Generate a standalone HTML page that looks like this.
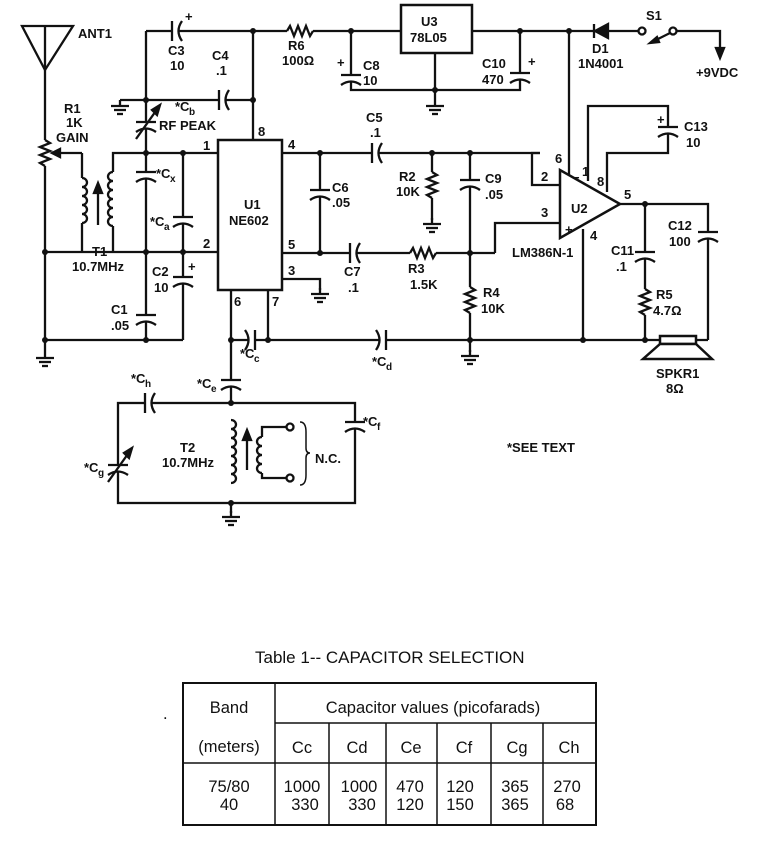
<!DOCTYPE html>
<html><head><meta charset="utf-8"><style>
html,body{margin:0;padding:0;background:#fff;}
svg{display:block;}
.t{font-family:"Liberation Sans Narrow","Liberation Sans",sans-serif;font-weight:bold;font-size:13px;fill:#111;}
.s{font-family:"Liberation Sans",sans-serif;font-size:16.5px;fill:#111;}
</style></head><body>
<svg width="758" height="842" viewBox="0 0 758 842" xmlns="http://www.w3.org/2000/svg">
<defs>
<g id="cv"><rect x="-11" y="-3" width="22" height="7" fill="#fff" stroke="none"/><line x1="-10" y1="-3" x2="10" y2="-3"/><path d="M-10 7 Q0 0 10 7" fill="none"/></g>
<g id="ch"><rect x="-3" y="-11" width="7" height="22" fill="#fff" stroke="none"/><line x1="-3" y1="-10" x2="-3" y2="10"/><path d="M7 -10 Q0 0 7 10" fill="none"/></g>
<g id="chr"><rect x="-4" y="-11" width="7" height="22" fill="#fff" stroke="none"/><line x1="3" y1="-10" x2="3" y2="10"/><path d="M-7 -10 Q0 0 -7 10" fill="none"/></g>
<g id="rv"><rect x="-6" y="-13" width="12" height="26" fill="#fff" stroke="none"/><polyline fill="none" points="0,-13 5,-10 -5,-6 5,-2 -5,2 5,6 -5,10 0,13"/></g>
<g id="rh"><rect x="-13" y="-6" width="26" height="12" fill="#fff" stroke="none"/><polyline fill="none" points="-13,0 -10,-5 -6,5 -2,-5 2,5 6,-5 10,5 13,0"/></g>
<g id="g"><line x1="0" y1="0" x2="0" y2="6"/><line x1="-9" y1="6" x2="9" y2="6"/><line x1="-6" y1="10" x2="6" y2="10"/><line x1="-3" y1="14" x2="3" y2="14"/></g>
</defs>
<g stroke="#111" stroke-width="2.3" fill="none">
<polygon points="22,26 73,26 45,70"/>
<line x1="45" y1="26" x2="45" y2="352"/>
<use href="#rv" x="45" y="153"/>
<polyline points="82,153 53,153"/><polygon points="52,153 60,149 60,157" fill="#111"/>
<polyline points="82,153 82,178"/>
<path d="M82 178 a5 4.5 0 0 1 0 9 a5 4.5 0 0 1 0 9 a5 4.5 0 0 1 0 9 a5 4.5 0 0 1 0 9 a5 4.5 0 0 1 0 9"/>
<polyline points="82,223 82,252"/>
<line x1="98" y1="225" x2="98" y2="190"/><polygon points="98,183 94,193 102,193" fill="#111"/>
<polyline points="146,153 113,153 113,172"/>
<path d="M113 172 a5 4.5 0 0 0 0 9 a5 4.5 0 0 0 0 9 a5 4.5 0 0 0 0 9 a5 4.5 0 0 0 0 9 a5 4.5 0 0 0 0 9 a5 4.5 0 0 0 0 9"/>
<polyline points="113,226 113,252"/>
<line x1="45" y1="252" x2="218" y2="252"/>
<line x1="45" y1="340" x2="183" y2="340"/>
<use href="#g" x="45" y="352"/>
<line x1="146" y1="31" x2="401" y2="31"/>
<line x1="146" y1="31" x2="146" y2="340"/>
<use href="#ch" x="175" y="31"/>
<use href="#rh" x="300" y="31"/>
<polyline points="120,100 253,100"/><use href="#g" x="120" y="100"/>
<use href="#ch" x="222" y="100"/>
<line x1="253" y1="31" x2="253" y2="140"/>
<use href="#cv" x="146" y="125"/><line x1="136" y1="139" x2="158" y2="108"/><polygon points="160,105 152,110 157,115" fill="#111"/>
<use href="#cv" x="146" y="175"/>
<use href="#cv" x="146" y="318"/>
<line x1="146" y1="153" x2="218" y2="153"/>
<line x1="183" y1="153" x2="183" y2="340"/>
<use href="#cv" x="183" y="220"/>
<use href="#cv" x="183" y="280"/>
<rect x="218" y="140" width="64" height="150" stroke-width="2.5"/>
<line x1="282" y1="153" x2="540" y2="153"/>
<line x1="282" y1="253" x2="495" y2="253"/>
<polyline points="282,279 320,279 320,290"/><use href="#g" x="320" y="288"/>
<line x1="320" y1="153" x2="320" y2="253"/>
<use href="#cv" x="320" y="193"/>
<use href="#ch" x="375" y="153"/>
<use href="#ch" x="353" y="253"/>
<use href="#rh" x="423" y="253"/>
<line x1="432" y1="153" x2="432" y2="220"/><use href="#rv" x="432" y="185"/><use href="#g" x="432" y="218"/>
<line x1="470" y1="153" x2="470" y2="352"/><use href="#cv" x="470" y="183"/><use href="#rv" x="470" y="300"/><use href="#g" x="470" y="350"/>
<polyline points="231,290 231,405"/><polyline points="268,290 268,340"/>
<line x1="231" y1="340" x2="708" y2="340"/>
<use href="#chr" x="252" y="340"/>
<use href="#chr" x="383" y="340"/>
<use href="#cv" x="231" y="383"/>
<rect x="118" y="403" width="237" height="100"/>
<use href="#ch" x="148" y="403"/>
<use href="#cv" x="355" y="425"/>
<use href="#cv" x="118" y="468"/><line x1="108" y1="482" x2="130" y2="451"/><polygon points="132,448 124,453 129,458" fill="#111"/>
<rect x="226" y="418" width="10" height="70" fill="#fff" stroke="none"/>
<path d="M231 420 a5 4.5 0 0 1 0 9 a5 4.5 0 0 1 0 9 a5 4.5 0 0 1 0 9 a5 4.5 0 0 1 0 9 a5 4.5 0 0 1 0 9 a5 4.5 0 0 1 0 9 a5 4.5 0 0 1 0 9"/>
<line x1="231" y1="503" x2="231" y2="513"/><use href="#g" x="231" y="511"/>
<line x1="247" y1="470" x2="247" y2="437"/><polygon points="247,430 243,440 251,440" fill="#111"/>
<polyline points="287,427 262,427 262,437"/>
<path d="M262 437 a5 4.5 0 0 0 0 9 a5 4.5 0 0 0 0 9 a5 4.5 0 0 0 0 9 a5 4.5 0 0 0 0 9"/>
<polyline points="262,473 262,478 287,478"/>
<circle cx="290" cy="427" r="3.5" fill="#fff"/><circle cx="290" cy="478" r="3.5" fill="#fff"/>
<path d="M300 422 Q306 422 306 432 L306 448 Q306 453 310 453 Q306 453 306 458 L306 475 Q306 485 300 485" stroke-width="1.5"/>
<rect x="401" y="5" width="71" height="48" stroke-width="2.5"/>
<line x1="472" y1="31" x2="642" y2="31"/>
<polyline points="351,31 351,90 520,90 520,31"/>
<use href="#cv" x="351" y="78"/>
<use href="#cv" x="520" y="76"/>
<line x1="435" y1="53" x2="435" y2="100"/><use href="#g" x="435" y="100"/>
<rect x="594" y="24" width="15" height="14" fill="#fff" stroke="none"/>
<polygon points="595,31 608,24 608,38" fill="#111"/><line x1="594" y1="24" x2="594" y2="38"/>
<circle cx="642" cy="31" r="3.5" fill="#fff"/><circle cx="673" cy="31" r="3.5" fill="#fff"/>
<line x1="670" y1="33" x2="654" y2="41"/><polygon points="650,43 657,37 659,42" fill="#111"/>
<polyline points="677,31 720,31 720,50"/><polygon points="720,58 716,48 724,48" fill="#111"/>
<line x1="569" y1="31" x2="569" y2="178"/>
<polygon points="560,170 560,238 620,204" stroke-width="2.5" fill="#fff"/>
<polyline points="540,153 532,153 532,185 560,185"/>
<polyline points="495,253 495,223 560,223"/>
<polyline points="588,181 588,106 668,106 668,153 607,153 607,192"/>
<use href="#cv" x="668" y="130"/>
<line x1="583" y1="229" x2="583" y2="340"/>
<polyline points="620,204 708,204 708,340"/>
<line x1="645" y1="204" x2="645" y2="340"/>
<use href="#cv" x="645" y="255"/>
<use href="#rv" x="645" y="302"/>
<use href="#cv" x="708" y="235"/>
<rect x="660" y="336" width="36" height="8" fill="#fff" stroke-width="2.5"/>
<polygon points="660,344 696,344 712,359 643,359" fill="#fff" stroke-width="2.5"/>
</g>
<g fill="#111">
<circle cx="253" cy="31" r="3"/><circle cx="351" cy="31" r="3"/><circle cx="146" cy="100" r="3"/><circle cx="253" cy="100" r="3"/>
<circle cx="146" cy="153" r="3"/><circle cx="183" cy="153" r="3"/><circle cx="146" cy="252" r="3"/><circle cx="183" cy="252" r="3"/>
<circle cx="45" cy="252" r="3"/><circle cx="45" cy="340" r="3"/><circle cx="146" cy="340" r="3"/>
<circle cx="320" cy="153" r="3"/><circle cx="320" cy="253" r="3"/><circle cx="432" cy="153" r="3"/><circle cx="470" cy="153" r="3"/>
<circle cx="470" cy="253" r="3"/><circle cx="470" cy="340" r="3"/><circle cx="231" cy="340" r="3"/><circle cx="268" cy="340" r="3"/>
<circle cx="583" cy="340" r="3"/><circle cx="645" cy="340" r="3"/><circle cx="645" cy="204" r="3"/>
<circle cx="520" cy="31" r="3"/><circle cx="569" cy="31" r="3"/><circle cx="435" cy="90" r="3"/>
<circle cx="231" cy="403" r="3"/><circle cx="231" cy="503" r="3"/>
</g>
<g class="t">
<text x="78" y="38">ANT1</text>
<text x="64" y="113">R1</text><text x="66" y="127">1K</text><text x="56" y="142">GAIN</text>
<text x="168" y="55">C3</text><text x="170" y="70">10</text><text x="185" y="21">+</text>
<text x="212" y="60">C4</text><text x="216" y="75">.1</text>
<text x="288" y="50">R6</text><text x="282" y="65">100Ω</text>
<text x="363" y="70">C8</text><text x="363" y="85">10</text><text x="337" y="67">+</text>
<text x="421" y="26">U3</text><text x="410" y="42">78L05</text>
<text x="482" y="68">C10</text><text x="482" y="84">470</text><text x="528" y="66">+</text>
<text x="592" y="53">D1</text><text x="578" y="68">1N4001</text>
<text x="646" y="20">S1</text><text x="696" y="77">+9VDC</text>
<text x="175" y="111">*C</text><text x="189" y="115" font-size="10">b</text>
<text x="159" y="130">RF PEAK</text>
<text x="156" y="178">*C</text><text x="170" y="182" font-size="10">x</text>
<text x="150" y="226">*C</text><text x="164" y="230" font-size="10">a</text>
<text x="203" y="150">1</text><text x="203" y="248">2</text><text x="258" y="136">8</text>
<text x="288" y="149">4</text><text x="288" y="249">5</text><text x="288" y="275">3</text>
<text x="234" y="306">6</text><text x="272" y="306">7</text>
<text x="244" y="209">U1</text><text x="229" y="225">NE602</text>
<text x="92" y="256">T1</text><text x="72" y="271">10.7MHz</text>
<text x="152" y="276">C2</text><text x="154" y="292">10</text><text x="188" y="271">+</text>
<text x="111" y="314">C1</text><text x="111" y="330">.05</text>
<text x="332" y="192">C6</text><text x="332" y="207">.05</text>
<text x="366" y="122">C5</text><text x="370" y="137">.1</text>
<text x="344" y="276">C7</text><text x="348" y="292">.1</text>
<text x="399" y="181">R2</text><text x="396" y="196">10K</text>
<text x="485" y="183">C9</text><text x="485" y="199">.05</text>
<text x="408" y="273">R3</text><text x="410" y="289">1.5K</text>
<text x="483" y="297">R4</text><text x="481" y="313">10K</text>
<text x="240" y="358">*C</text><text x="254" y="362" font-size="10">c</text>
<text x="372" y="366">*C</text><text x="386" y="370" font-size="10">d</text>
<text x="131" y="383">*C</text><text x="145" y="387" font-size="10">h</text>
<text x="197" y="388">*C</text><text x="211" y="392" font-size="10">e</text>
<text x="363" y="426">*C</text><text x="377" y="430" font-size="10">f</text>
<text x="84" y="472">*C</text><text x="98" y="476" font-size="10">g</text>
<text x="180" y="452">T2</text><text x="162" y="467">10.7MHz</text>
<text x="315" y="463">N.C.</text>
<text x="507" y="452">*SEE TEXT</text>
<text x="555" y="163">6</text><text x="582" y="176">1</text><text x="597" y="186">8</text>
<text x="541" y="181">2</text><text x="541" y="217">3</text><text x="590" y="240">4</text><text x="624" y="199">5</text>
<text x="572" y="182">−</text><text x="565" y="234">+</text>
<text x="571" y="213">U2</text><text x="512" y="257">LM386N-1</text>
<text x="684" y="131">C13</text><text x="686" y="147">10</text><text x="657" y="124">+</text>
<text x="668" y="230">C12</text><text x="669" y="246">100</text>
<text x="611" y="255">C11</text><text x="616" y="271">.1</text>
<text x="656" y="299">R5</text><text x="653" y="315">4.7Ω</text>
<text x="656" y="378">SPKR1</text><text x="666" y="393">8Ω</text>
</g>
<text class="s" x="255" y="663" style="font-size:17px">Table 1-- CAPACITOR SELECTION</text>
<text class="s" x="163" y="719">.</text>
<g stroke="#111" stroke-width="1.5" fill="none">
<rect x="183" y="683" width="413" height="142" stroke-width="2"/>
<line x1="275" y1="683" x2="275" y2="825"/>
<line x1="275" y1="723" x2="596" y2="723"/>
<line x1="183" y1="763" x2="596" y2="763"/>
<line x1="329" y1="723" x2="329" y2="825"/><line x1="386" y1="723" x2="386" y2="825"/>
<line x1="437" y1="723" x2="437" y2="825"/><line x1="491" y1="723" x2="491" y2="825"/>
<line x1="543" y1="723" x2="543" y2="825"/>
</g>
<g class="s" text-anchor="middle">
<text x="229" y="713">Band</text><text x="229" y="752">(meters)</text>
<text x="433" y="713">Capacitor values (picofarads)</text>
<text x="302" y="753">Cc</text><text x="357" y="753">Cd</text><text x="411" y="753">Ce</text>
<text x="464" y="753">Cf</text><text x="517" y="753">Cg</text><text x="569" y="753">Ch</text>
<text x="229" y="792">75/80</text><text x="229" y="810">40</text>
<text x="302" y="792">1000</text><text x="305" y="810">330</text>
<text x="359" y="792">1000</text><text x="362" y="810">330</text>
<text x="410" y="792">470</text><text x="410" y="810">120</text>
<text x="460" y="792">120</text><text x="460" y="810">150</text>
<text x="515" y="792">365</text><text x="515" y="810">365</text>
<text x="567" y="792">270</text><text x="565" y="810">68</text>
</g>
</svg>
</body></html>
